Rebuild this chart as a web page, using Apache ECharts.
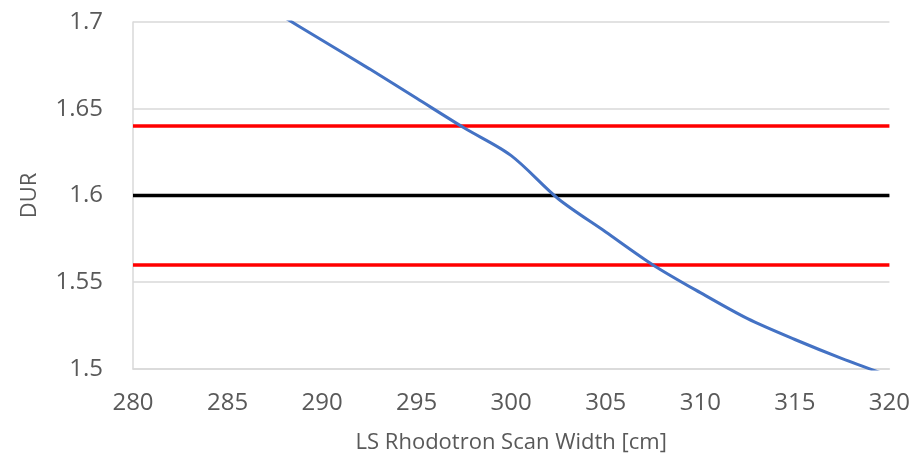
<!DOCTYPE html>
<html><head><meta charset="utf-8">
<script src="https://cdn.jsdelivr.net/npm/echarts@6/dist/echarts.min.js"></script>
<style>html,body{margin:0;padding:0;background:#fff}#c{width:913px;height:459px}</style>
</head><body><div id="c"></div>
<script>
var scanWidth = [285, 287.5, 290, 292.5, 295, 297.5, 300, 302.5, 305, 307.5, 310, 312.5, 315, 317.5, 320];
var dur = [1.723, 1.706, 1.6895, 1.673, 1.656, 1.639, 1.623, 1.598, 1.579, 1.560, 1.544, 1.529, 1.517, 1.506, 1.496];
var upperLimit = 1.64, target = 1.6, lowerLimit = 1.56;
var xTicks = [280, 285, 290, 295, 300, 305, 310, 315, 320];
var yTicks = [1.5, 1.55, 1.6, 1.65, 1.7];

var font = "'Open Sans', 'Noto Sans', sans-serif";
var chart = echarts.init(document.getElementById('c'));
function hline(v, color) {
  return { type: 'line', data: [[280, v], [320, v]], symbol: 'none', silent: true,
    lineStyle: { color: color, width: 3.5 }, z: 3 };
}
chart.setOption({
  animation: false,
  grid: { left: 133, right: 23, top: 22, bottom: 89 },
  xAxis: {
    type: 'value', min: 280, max: 320, interval: 5,
    name: 'LS Rhodotron Scan Width [cm]', nameLocation: 'middle', nameGap: 63,
    nameTextStyle: { fontFamily: font, fontSize: 22, color: '#595959' },
    axisLine: { show: true, lineStyle: { color: '#d9d9d9', width: 1.5 } },
    axisTick: { show: false }, splitLine: { show: false },
    axisLabel: { fontFamily: font, fontSize: 24, color: '#595959', margin: 22,
      formatter: function (v) { return xTicks.indexOf(v) >= 0 ? String(v) : ''; } }
  },
  yAxis: {
    type: 'value', min: 1.5, max: 1.7, interval: 0.05,
    name: 'DUR', nameLocation: 'middle', nameGap: 92,
    nameTextStyle: { fontFamily: font, fontSize: 22, color: '#595959' },
    axisLine: { show: true, lineStyle: { color: '#d9d9d9', width: 1.5 } },
    axisTick: { show: false },
    splitLine: { show: true, lineStyle: { color: '#d9d9d9', width: 1.5 } },
    axisLabel: { fontFamily: font, fontSize: 24, color: '#595959', margin: 30,
      formatter: function (v) { var r = Math.round(v * 100) / 100; return yTicks.indexOf(r) >= 0 ? String(r) : ''; } }
  },
  series: [
    hline(upperLimit, '#ff0000'),
    hline(target, '#000000'),
    hline(lowerLimit, '#ff0000'),
    { type: 'line', data: scanWidth.map(function (x, i) { return [x, dur[i]]; }),
      symbol: 'none', smooth: 0.3, clip: true,
      lineStyle: { color: '#4472c4', width: 3 }, z: 4 }
  ]
});
</script></body></html>
